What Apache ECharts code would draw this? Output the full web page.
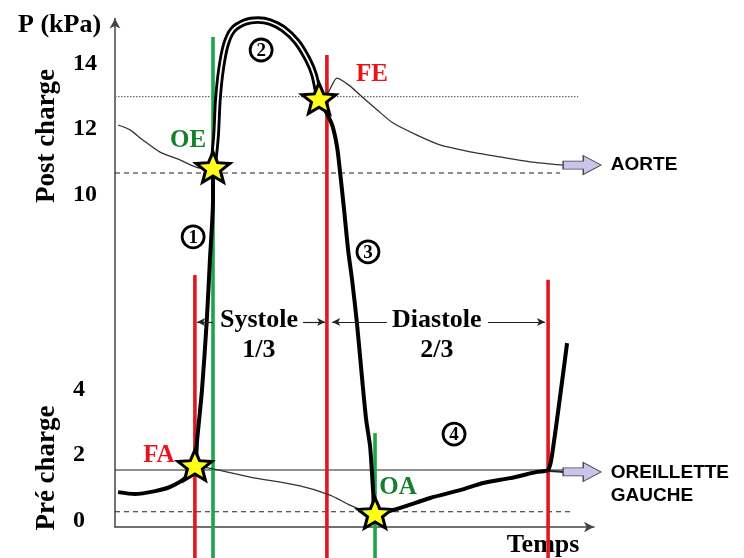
<!DOCTYPE html>
<html>
<head>
<meta charset="utf-8">
<script src="https://cdn.jsdelivr.net/npm/echarts@6/dist/echarts.min.js"></script>
<style>
  html, body { margin: 0; padding: 0; background: #fff; }
  #chart { width: 744px; height: 558px; }
</style>
</head>
<body>
<div id="chart"></div>
<script>
// Cardiac cycle of the left heart: time in ms, pressure in kPa.
const yTicks = [0, 2, 4, 10, 12, 14];

// Left ventricular pressure
const ventricle = [
  [7, 0.87], [45, 0.81], [91, 0.90], [125, 1.03], [159, 1.30], [181, 1.70],
  [186, 2.47], [197, 4.00], [208, 6.15], [215, 7.99], [222, 9.83], [222, 10.84],
  [229, 11.82], [233, 12.90], [240, 13.82], [251, 14.59], [267, 15.05], [295, 15.29],
  [324, 15.35], [351, 15.29], [381, 15.08], [412, 14.68], [437, 14.13], [451, 13.67],
  [462, 12.95], [476, 12.59], [492, 12.13], [503, 11.46], [510, 10.66], [519, 9.52],
  [528, 8.30], [537, 7.38], [548, 6.06], [560, 4.31], [569, 3.08], [578, 2.25],
  [585, 0.84], [589, 0.23], [630, 0.32], [714, 0.69], [782, 0.93], [834, 1.15],
  [895, 1.30], [956, 1.49], [981, 1.55], [990, 2.01], [1024, 5.44]
];

// Aortic pressure before valve opening and after closure
const aortaBefore = [[7, 12.13], [34, 11.98], [63, 11.67], [102, 11.30], [147, 11.06], [193, 10.81], [222, 10.84]];
const aortaAfter = [
  [462, 12.95], [483, 13.14], [503, 13.57], [532, 13.33], [555, 13.05], [594, 12.59],
  [630, 12.19], [684, 11.82], [736, 11.52], [797, 11.33], [872, 11.15], [940, 11.00], [1015, 10.90]
];

// Left atrial pressure between mitral closure and opening, then its end
const atriumFilling = [[181, 1.70], [222, 1.58], [306, 1.33], [419, 1.06], [487, 0.78], [532, 0.47], [566, 0.29], [589, 0.23]];
const atriumTail = [[956, 1.49], [981, 1.52], [1015, 1.49]];

// Valve events
const valveNames = ['FA', 'OE', 'FE', 'OA'];
const valveTimes = [181, 222, 462, 589];
const valvePressures = [1.70, 10.84, 12.95, 0.23];

// Vertical event markers (closure = red, opening = green)
const markerTimes = [181, 222, 480, 589, 981];
const markerTops = [7.53, 14.83, 14.28, 2.68, 7.38];
const markerKinds = ['close', 'open', 'close', 'open', 'close'];

// Horizontal pressure levels
const refLevels = [13.0, 10.66, 1.55, 0.27];
const refEnds = [1049, 1008, 1015, 1038];
const refStyles = ['dotted', 'dashed', 'solid', 'dashed'];

// Phases of the cycle
const phaseNames = ['Systole\n1/3', 'Diastole\n2/3'];
const phaseLabelTimes = [326, 729];
const phaseLabelLevel = 5.69;
const phaseArrowLevel = 6.09;
const phaseArrows = [[222, 186], [426, 476], [616, 492], [845, 974]];

// Numbered steps of the cycle
const stepLabels = ['1', '2', '3', '4'];
const stepTimes = [177, 331, 573, 768];
const stepPressures = [8.70, 14.43, 8.24, 2.65];

// Outlets
const outletNames = ['AORTE', 'OREILLETTE\nGAUCHE'];

const SERIF = '"Liberation Serif", "Times New Roman", serif';
const SANS = '"Liberation Sans", Arial, sans-serif';
const RED = '#e3161e';
const GREEN = '#1fa548';
const RED_TEXT = '#e8141c';
const GREEN_TEXT = '#15802c';

const STAR = 'path://M50,0 L62.93,32.2 L97.55,34.55 L70.92,56.8 L79.39,90.45 L50,72 L20.61,90.45 L29.08,56.8 L2.45,34.55 L37.07,32.2 Z';
const BLOCK_ARROW = 'path://M0,29 L53,29 L53,0 L100,50 L53,100 L53,71 L0,71 Z';

const lineBase = { type: 'line', showSymbol: false, symbol: 'none', silent: true, clip: false, animation: false };

const series = [];

// reference pressure levels
refLevels.forEach((lvl, i) => {
  const style = refStyles[i];
  series.push(Object.assign({}, lineBase, {
    data: [[0, lvl], [refEnds[i], lvl]],
    lineStyle: {
      color: style === 'dotted' ? '#666' : '#222',
      width: style === 'dotted' ? 1.3 : 1.1,
      type: style === 'dashed' ? [5, 4] : (style === 'dotted' ? [1.5, 1.5] : 'solid')
    },
    z: 1
  }));
});

// event markers
markerTimes.forEach((t, i) => {
  series.push(Object.assign({}, lineBase, {
    data: [[t, -1.2], [t, markerTops[i]]],
    lineStyle: { color: markerKinds[i] === 'open' ? GREEN : RED, width: 3.6 },
    z: 2
  }));
});

// aortic pressure
[aortaBefore, aortaAfter].forEach(d => {
  series.push(Object.assign({}, lineBase, {
    data: d, smooth: 0.25,
    lineStyle: { color: '#333', width: 1.3 },
    z: 3
  }));
});

// atrial pressure
series.push(Object.assign({}, lineBase, {
  data: atriumFilling, smooth: 0.3,
  lineStyle: { color: '#333', width: 1.3 },
  z: 3
}));
series.push(Object.assign({}, lineBase, {
  data: atriumTail, smooth: 0.2,
  lineStyle: { color: '#222', width: 2 },
  z: 3
}));

// ventricular pressure
series.push(Object.assign({}, lineBase, {
  data: ventricle, smooth: 0.25,
  lineStyle: { color: '#000', width: 4 },
  z: 4
}));

// ejection: ventricle and aorta together, drawn as a double line
const ejection = ventricle.filter(p =>
  p[0] >= valveTimes[1] && p[0] <= valveTimes[2] && p[1] >= valvePressures[1]);
series.push(Object.assign({}, lineBase, {
  data: ejection, smooth: 0.25,
  lineStyle: { color: '#000', width: 7.5 },
  z: 5
}));
series.push(Object.assign({}, lineBase, {
  data: ejection, smooth: 0.25,
  lineStyle: { color: '#fff', width: 1.8 },
  z: 5
}));

// phase arrows
series.push(Object.assign({}, lineBase, {
  data: [],
  markLine: {
    silent: true, animation: false,
    symbol: ['none', 'arrow'], symbolSize: [6, 8],
    label: { show: false },
    lineStyle: { color: '#222', width: 1.2, type: 'solid', opacity: 1 },
    data: phaseArrows.map(a => [{ coord: [a[0], phaseArrowLevel] }, { coord: [a[1], phaseArrowLevel] }])
  },
  z: 6
}));

// phase names
series.push({
  type: 'scatter', silent: true, animation: false, symbolSize: 0, z: 6,
  itemStyle: { opacity: 1 },
  data: phaseNames.map((n, i) => ({ value: [phaseLabelTimes[i], phaseLabelLevel], name: n })),
  label: {
    show: true, position: 'inside', formatter: p => p.name,
    fontFamily: SERIF, fontWeight: 'bold', fontSize: 26, lineHeight: 30,
    color: '#000', align: 'center', verticalAlign: 'middle'
  }
});

// numbered steps
series.push({
  type: 'scatter', silent: true, animation: false, z: 7,
  symbol: 'circle', symbolSize: 22,
  itemStyle: { color: 'rgba(0,0,0,0)', borderColor: '#000', borderWidth: 2.8, opacity: 1 },
  data: stepLabels.map((s, i) => ({ value: [stepTimes[i], stepPressures[i]], name: s })),
  label: {
    show: true, position: 'inside', formatter: p => p.name,
    fontFamily: SERIF, fontWeight: 'bold', fontSize: 19, color: '#000', offset: [0, 1]
  }
});

// valve events
const valveLabelOffsets = { FA: [-36, -10], OE: [-25, -27], FE: [53, -24], OA: [23, -25] };
series.push({
  type: 'scatter', silent: true, animation: false, z: 10,
  symbol: STAR, symbolSize: [34, 32], symbolKeepAspect: true,
  itemStyle: { color: '#ffff1a', borderColor: '#000', borderWidth: 3, opacity: 1 },
  data: valveNames.map((n, i) => ({
    value: [valveTimes[i], valvePressures[i]], name: n,
    label: {
      offset: valveLabelOffsets[n],
      color: (n === 'FA' || n === 'FE') ? RED_TEXT : GREEN_TEXT
    }
  })),
  label: {
    show: true, position: 'inside', formatter: p => p.name,
    fontFamily: SERIF, fontWeight: 'bold', fontSize: 25,
    align: 'center', verticalAlign: 'middle'
  }
});

// outlets
const outletEnds = [aortaAfter[aortaAfter.length - 1], atriumTail[atriumTail.length - 1]];
series.push({
  type: 'scatter', silent: true, animation: false, z: 9,
  symbol: BLOCK_ARROW, symbolSize: [38, 19], symbolOffset: ['50%', 0],
  itemStyle: { color: '#cbc3ea', borderColor: '#444', borderWidth: 1, opacity: 1 },
  data: outletNames.map((n, i) => ({
    value: outletEnds[i], name: n,
    label: { offset: i === 0 ? [0, 0] : [0, 12] }
  })),
  label: {
    show: true, position: 'right', distance: 9, formatter: p => p.name,
    fontFamily: SANS, fontWeight: 'bold', fontSize: 19, lineHeight: 23,
    color: '#000', align: 'left'
  }
});

const chart = echarts.init(document.getElementById('chart'), null, { renderer: 'canvas' });
chart.setOption({
  animation: false,
  backgroundColor: '#fff',
  grid: { left: 115, right: 150, top: 18.4, bottom: 31, containLabel: false },
  xAxis: {
    type: 'value', min: 0, max: 1085,
    axisLine: { show: true, onZero: false, symbol: ['none', 'arrow'], symbolSize: [8, 10], lineStyle: { color: '#444', width: 1.5 } },
    axisTick: { show: false }, axisLabel: { show: false }, splitLine: { show: false }
  },
  yAxis: {
    type: 'value', min: -0.2, max: 15.4,
    axisLine: { show: true, onZero: false, symbol: ['none', 'arrow'], symbolSize: [8, 10], lineStyle: { color: '#444', width: 1.5 } },
    axisTick: { show: false }, splitLine: { show: false },
    axisLabel: {
      customValues: yTicks, align: 'left', margin: 42,
      fontFamily: SERIF, fontWeight: 'bold', fontSize: 24, color: '#000'
    }
  },
  graphic: [
    { type: 'text', x: 18, y: 25, silent: true,
      style: { text: 'P (kPa)', font: 'bold 26px ' + SERIF, fill: '#000', textAlign: 'left', textVerticalAlign: 'middle' } },
    { type: 'text', x: 47, y: 136, rotation: Math.PI / 2, silent: true,
      style: { text: 'Post charge', font: 'bold 27px ' + SERIF, fill: '#000', textAlign: 'center', textVerticalAlign: 'middle' } },
    { type: 'text', x: 47, y: 468, rotation: Math.PI / 2, silent: true,
      style: { text: 'Pré charge', font: 'bold 27px ' + SERIF, fill: '#000', textAlign: 'center', textVerticalAlign: 'middle' } },
    { type: 'text', x: 543, y: 545, silent: true,
      style: { text: 'Temps', font: 'bold 26px ' + SERIF, fill: '#000', textAlign: 'center', textVerticalAlign: 'middle' } }
  ],
  series: series
});
</script>
</body>
</html>
